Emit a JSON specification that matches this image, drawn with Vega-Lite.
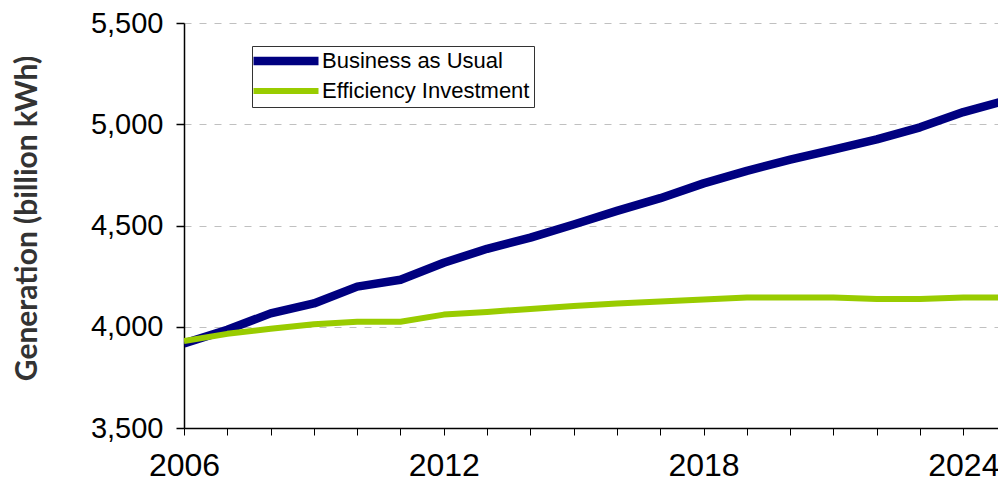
{
  "$schema": "https://vega.github.io/schema/vega-lite/v6.json",
  "autosize": {"type": "none"},
  "padding": {"left": 184, "top": 23, "right": 0, "bottom": 55},
  "width": 814,
  "height": 405,
  "background": "white",
  "config": {
    "view": {"stroke": null},
    "font": "Liberation Sans"
  },
  "data": {
    "values": [
      {"year": 2006, "series": "Business as Usual", "value": 3918},
      {"year": 2007, "series": "Business as Usual", "value": 3985},
      {"year": 2008, "series": "Business as Usual", "value": 4066},
      {"year": 2009, "series": "Business as Usual", "value": 4115},
      {"year": 2010, "series": "Business as Usual", "value": 4198},
      {"year": 2011, "series": "Business as Usual", "value": 4232},
      {"year": 2012, "series": "Business as Usual", "value": 4316},
      {"year": 2013, "series": "Business as Usual", "value": 4385},
      {"year": 2014, "series": "Business as Usual", "value": 4440},
      {"year": 2015, "series": "Business as Usual", "value": 4505},
      {"year": 2016, "series": "Business as Usual", "value": 4572},
      {"year": 2017, "series": "Business as Usual", "value": 4635},
      {"year": 2018, "series": "Business as Usual", "value": 4708},
      {"year": 2019, "series": "Business as Usual", "value": 4770},
      {"year": 2020, "series": "Business as Usual", "value": 4825},
      {"year": 2021, "series": "Business as Usual", "value": 4875},
      {"year": 2022, "series": "Business as Usual", "value": 4925},
      {"year": 2023, "series": "Business as Usual", "value": 4985},
      {"year": 2024, "series": "Business as Usual", "value": 5060},
      {"year": 2025, "series": "Business as Usual", "value": 5118},
      {"year": 2006, "series": "Efficiency Investment", "value": 3930},
      {"year": 2007, "series": "Efficiency Investment", "value": 3965},
      {"year": 2008, "series": "Efficiency Investment", "value": 3990},
      {"year": 2009, "series": "Efficiency Investment", "value": 4012},
      {"year": 2010, "series": "Efficiency Investment", "value": 4025},
      {"year": 2011, "series": "Efficiency Investment", "value": 4025},
      {"year": 2012, "series": "Efficiency Investment", "value": 4060},
      {"year": 2013, "series": "Efficiency Investment", "value": 4073},
      {"year": 2014, "series": "Efficiency Investment", "value": 4088},
      {"year": 2015, "series": "Efficiency Investment", "value": 4102},
      {"year": 2016, "series": "Efficiency Investment", "value": 4115},
      {"year": 2017, "series": "Efficiency Investment", "value": 4125},
      {"year": 2018, "series": "Efficiency Investment", "value": 4135},
      {"year": 2019, "series": "Efficiency Investment", "value": 4145},
      {"year": 2020, "series": "Efficiency Investment", "value": 4145},
      {"year": 2021, "series": "Efficiency Investment", "value": 4145},
      {"year": 2022, "series": "Efficiency Investment", "value": 4137},
      {"year": 2023, "series": "Efficiency Investment", "value": 4137},
      {"year": 2024, "series": "Efficiency Investment", "value": 4145},
      {"year": 2025, "series": "Efficiency Investment", "value": 4145}
    ]
  },
  "mark": {"type": "line", "clip": true, "strokeJoin": "round", "strokeCap": "butt"},
  "encoding": {
    "x": {
      "field": "year",
      "type": "quantitative",
      "scale": {"domain": [2006, 2024.8], "nice": false, "zero": false},
      "axis": {
        "title": null,
        "values": [2006, 2007, 2008, 2009, 2010, 2011, 2012, 2013, 2014, 2015, 2016, 2017, 2018, 2019, 2020, 2021, 2022, 2023, 2024],
        "labelExpr": "(datum.value - 2006) % 6 == 0 ? datum.label : ''",
        "format": "d",
        "grid": false,
        "domainColor": "black",
        "domainWidth": 1.5,
        "tickColor": "black",
        "tickSize": 7,
        "tickWidth": 1,
        "labelFontSize": 32,
        "labelColor": "black",
        "labelPadding": 15,
        "labelFlush": false,
        "labelBound": false,
        "labelOverlap": false
      }
    },
    "y": {
      "field": "value",
      "type": "quantitative",
      "scale": {"domain": [3500, 5500], "nice": false, "zero": false},
      "axis": {
        "title": "Generation (billion kWh)",
        "titleFont": "Lato",
        "titleFontWeight": "bold",
        "titleFontSize": 30,
        "titleColor": "#333333",
        "titleX": -142,
        "titleY": 195,
        "titleAngle": -90,
        "titleBaseline": "bottom",
        "titleAlign": "center",
        "values": [3500, 4000, 4500, 5000, 5500],
        "format": ",.0f",
        "grid": true,
        "gridColor": "#c0c0c0",
        "gridDash": [7, 8],
        "gridWidth": 1,
        "domainColor": "black",
        "domainWidth": 1.5,
        "tickColor": "black",
        "tickSize": 8,
        "tickWidth": 1.5,
        "labelFontSize": 29,
        "labelColor": "black",
        "labelPadding": 13,
        "labelFlush": false
      }
    },
    "color": {
      "field": "series",
      "type": "nominal",
      "scale": {"domain": ["Business as Usual", "Efficiency Investment"], "range": ["#000080", "#99CC00"]},
      "legend": {
        "title": null,
        "orient": "none",
        "legendX": 68,
        "legendY": 23,
        "symbolType": "M-2.7,0H10.3",
        "symbolSize": 100,
        "labelFontSize": 22,
        "labelColor": "black",
        "labelLimit": 400,
        "labelOffset": 44,
        "strokeColor": "#333333",
        "fillColor": "white",
        "padding": 4,
        "rowPadding": 1
      }
    },
    "strokeWidth": {
      "field": "series",
      "type": "nominal",
      "scale": {"domain": ["Business as Usual", "Efficiency Investment"], "range": [8.5, 6]},
      "legend": null
    }
  }
}
